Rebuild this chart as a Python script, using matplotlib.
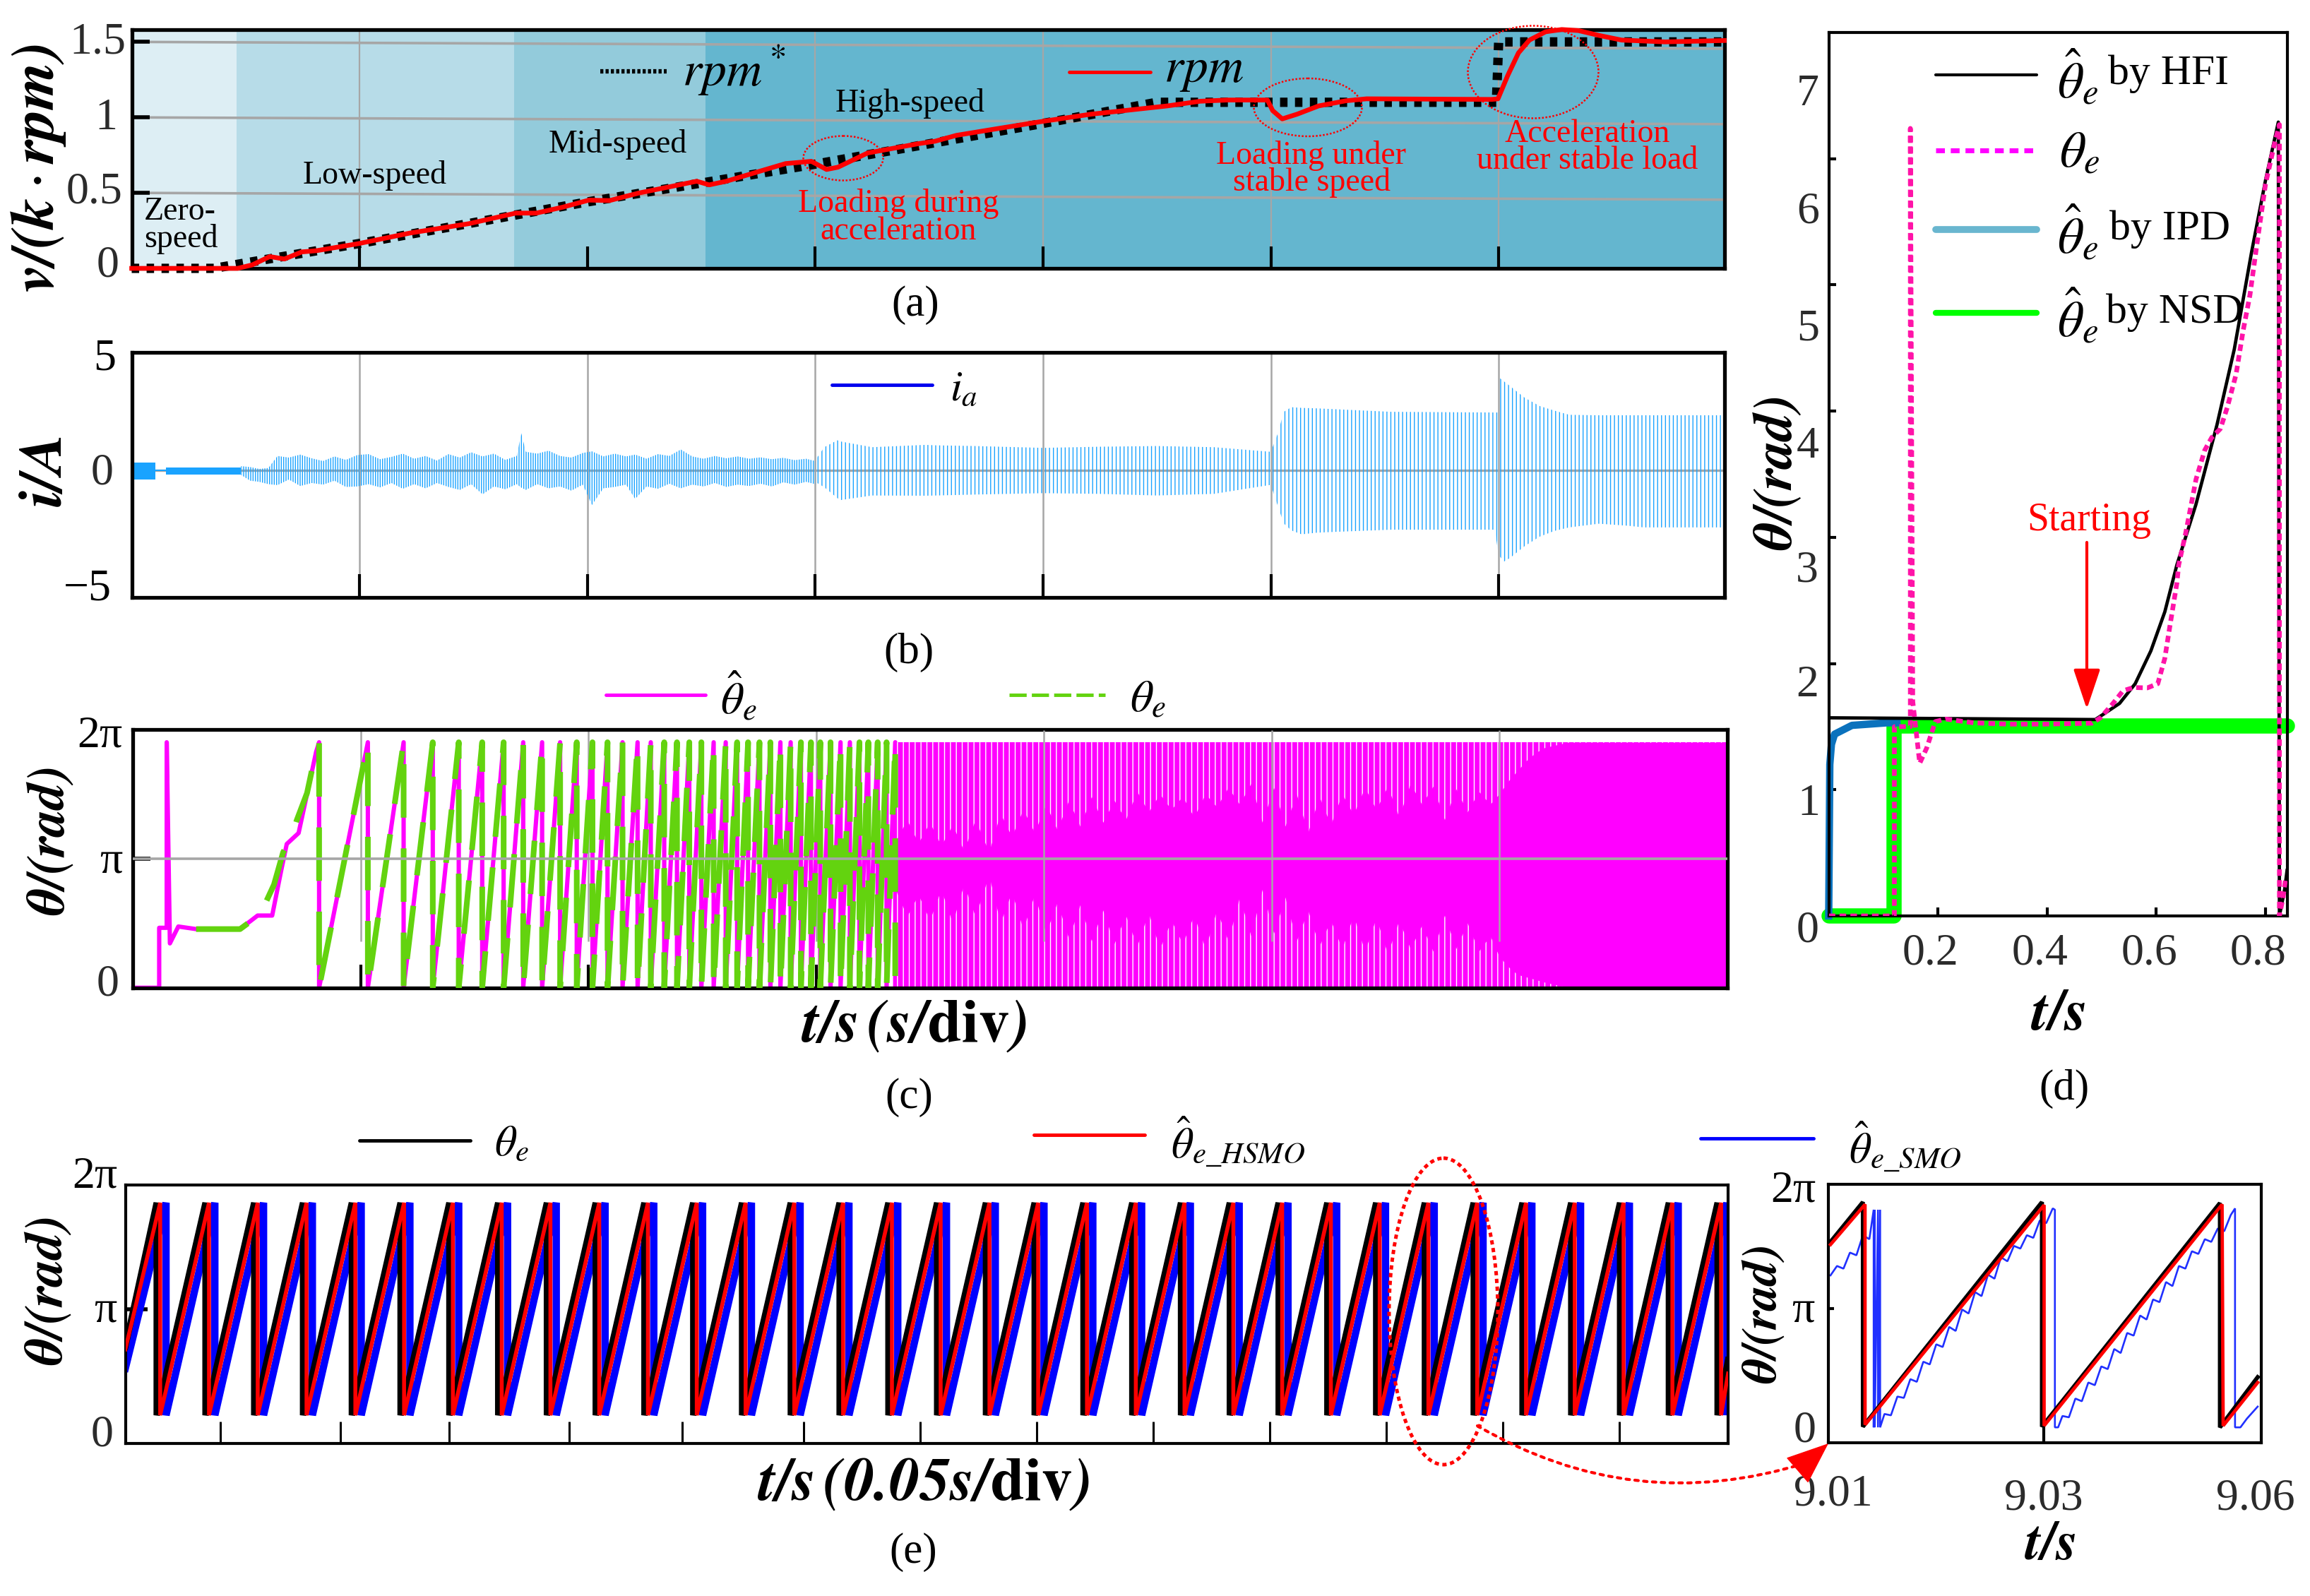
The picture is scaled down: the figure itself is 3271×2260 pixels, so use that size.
import numpy as np
import matplotlib
matplotlib.use("Agg")
import matplotlib.pyplot as plt
from matplotlib.patches import Ellipse

W, H = 3271, 2260
plt.rcParams["font.family"] = ["Liberation Serif", "DejaVu Serif"]
plt.rcParams["mathtext.fontset"] = "stix"
plt.rcParams["hatch.linewidth"] = 1.0

PI = np.pi
GREY = "#A6A6A6"
LABEL = "#2B2B2B"

# (a) speed
band_edges = [0, 0.46, 1.68, 2.52, 7]
band_colors = ["#DDEEF4", "#B7DCE8", "#93CBDB", "#64B6CF"]
ref_t = [0, 0.36, 1, 2, 3, 4, 4.5, 5.99, 6.0, 7]
ref_v = [0, 0, 0.165, 0.44, 0.69, 0.96, 1.10, 1.10, 1.5, 1.5]
rpm_t = [0, 0.465, 0.529, 0.606, 0.670, 0.747, 0.811, 0.996, 1.222, 1.48, 1.686, 1.776,
         1.891, 2.007, 2.097, 2.226, 2.38, 2.48, 2.535, 2.61, 2.765, 2.87, 2.983, 3.05,
         3.10, 3.23, 3.454, 3.526, 3.62, 3.81, 4.0, 4.21, 4.40, 4.546, 4.69, 4.81, 4.985,
         5.008, 5.05, 5.115, 5.21, 5.33, 5.42, 5.97, 5.997, 6.04, 6.087, 6.135, 6.206,
         6.277, 6.35, 6.44, 6.54, 6.73, 6.99]
rpm_v = [0, 0, 0.023, 0.078, 0.062, 0.109, 0.117, 0.164, 0.234, 0.296, 0.366, 0.366,
         0.405, 0.452, 0.449, 0.499, 0.546, 0.577, 0.553, 0.577, 0.647, 0.694, 0.709, 0.655,
         0.670, 0.764, 0.826, 0.842, 0.881, 0.928, 0.974, 1.021, 1.052, 1.076, 1.107, 1.115, 1.115,
         1.045, 0.99, 1.021, 1.076, 1.11, 1.123, 1.119, 1.123, 1.278, 1.427, 1.512, 1.567,
         1.582, 1.575, 1.543, 1.512, 1.50, 1.509]
a_grid_left = [0.5, 1.0, 1.5]
a_grid_right = [0.455, 0.955, 1.455]

# (b) phase current, read as envelopes of the oscillation
b_solid_t = [0, 0.105, 0.105, 0.15, 0.15, 0.478]
b_solid_up = [0.34, 0.34, 0.03, 0.03, 0.11, 0.11]
b_solid_lo = [-0.40, -0.40, -0.03, -0.03, -0.17, -0.17]
b_noise_t = [0.48, 0.52, 0.56, 0.60, 0.64, 0.69, 0.74, 0.79, 0.84, 0.89, 0.94, 0.99, 1.04, 1.09,
             1.14, 1.19, 1.24, 1.29, 1.34, 1.39, 1.44, 1.49, 1.54, 1.59, 1.64, 1.69, 1.71, 1.73,
             1.78, 1.83, 1.88, 1.93, 1.98, 2.02, 2.07, 2.12, 2.17, 2.21, 2.26, 2.31, 2.36, 2.41,
             2.46, 2.51, 2.56, 2.61, 2.66, 2.71, 2.76, 2.81, 2.86, 2.91, 2.96, 3.0]
b_noise_up = [0.18, 0.14, 0.06, 0.10, 0.62, 0.55, 0.68, 0.52, 0.40, 0.60, 0.45, 0.66, 0.70, 0.48,
              0.58, 0.72, 0.50, 0.62, 0.42, 0.70, 0.55, 0.78, 0.60, 0.72, 0.45, 0.62, 1.60, 0.80,
              0.72, 0.85, 0.62, 0.55, 0.75, 0.82, 0.60, 0.72, 0.60, 0.68, 0.50, 0.70, 0.62, 0.90,
              0.60, 0.50, 0.62, 0.52, 0.60, 0.50, 0.56, 0.48, 0.54, 0.44, 0.50, 0.40]
b_noise_lo = [-0.20, -0.45, -0.50, -0.60, -0.64, -0.40, -0.68, -0.55, -0.62, -0.45, -0.72, -0.70, -0.60, -0.74,
              -0.55, -0.80, -0.60, -0.78, -0.55, -0.72, -0.85, -0.60, -1.04, -0.70, -0.82, -0.60, -0.75, -0.85,
              -0.60, -0.78, -0.70, -0.88, -0.62, -1.50, -0.78, -0.72, -0.62, -1.24, -0.70, -0.80, -0.58, -0.78,
              -0.62, -0.70, -0.55, -0.72, -0.62, -0.68, -0.58, -0.70, -0.52, -0.62, -0.50, -0.60]
b_wave_t = [3.0, 3.04, 3.097, 3.11, 3.25, 3.484, 3.53, 3.7, 4.0, 4.25, 4.5, 4.75, 5.0, 5.031, 5.057, 5.09,
            5.135, 5.2, 5.266, 5.527, 5.984, 5.997, 6.003, 6.023, 6.049, 6.114, 6.18, 6.245, 6.31, 6.44,
            6.57, 6.636, 6.976]
b_wave_up = [0.43, 1.0, 1.30, 1.25, 1.0, 1.10, 1.08, 1.05, 0.97, 1.02, 1.05, 1.0, 0.80, 1.60, 2.53, 2.73,
             2.70, 2.68, 2.65, 2.53, 2.50, 2.50, 4.0, 3.85, 3.65, 3.14, 2.78, 2.58, 2.40, 2.38,
             2.38, 2.38, 2.38]
b_wave_lo = [-0.50, -0.73, -1.20, -1.29, -1.09, -1.10, -1.09, -1.05, -0.99, -1.02, -1.09, -1.02, -0.63, -1.55, -2.30, -2.60,
             -2.77, -2.70, -2.67, -2.57, -2.57, -3.50, -3.70, -3.95, -3.80, -3.28, -2.87, -2.62, -2.47, -2.31,
             -2.40, -2.47, -2.47]

# (c) rotor angle, given in units of pi
c_start_t = [0, 0.116, 0.116, 0.149, 0.149, 0.163, 0.2, 0.278, 0.471, 0.548, 0.612, 0.651, 0.676, 0.728, 0.766, 0.805]
c_start_y = [0, 0, 0.465, 0.465, 1.904, 0.344, 0.475, 0.455, 0.455, 0.56, 0.56, 0.905, 1.115, 1.20, 1.51, 1.83]
c_green_t = [0.278, 0.471, 0.56, 0.62, 0.66, 0.70, 0.72, 0.765, 0.80]
c_green_y = [0.455, 0.455, 0.57, 0.80, 1.05, 1.18, 1.30, 1.51, 1.80]
c_resets = [0.818, 1.032, 1.189, 1.317, 1.431, 1.534, 1.628, 1.714, 1.797, 1.876, 1.949, 2.018, 2.084, 2.150,
            2.216, 2.274, 2.333, 2.389, 2.443, 2.496, 2.550, 2.603, 2.653, 2.701, 2.751, 2.799, 2.843, 2.888,
            2.933, 2.977, 3.018, 3.063, 3.107, 3.148, 3.190, 3.229, 3.270, 3.309, 3.347]
c_top = 1.904
gap_t = [3.35, 3.40, 3.45, 3.50, 3.55, 3.60, 3.65, 3.70, 3.76, 3.81, 3.86, 3.91, 3.96, 4.01, 4.06, 4.11,
         4.16, 4.21, 4.26, 4.31, 4.36, 4.41, 4.46, 4.51, 4.56, 4.61, 4.66, 4.71, 4.76, 4.81, 4.86, 4.91,
         4.96, 5.01, 5.06, 5.11, 5.16, 5.21, 5.26, 5.31, 5.36, 5.41, 5.46, 5.51, 5.56, 5.61, 5.66, 5.71,
         5.76, 5.81, 5.86, 5.91, 5.96, 6.0, 6.04, 6.08, 6.12, 6.16, 6.2, 6.3, 7.0]
gap_top = [1.13, 1.30, 1.12, 1.28, 1.10, 1.26, 1.06, 1.30, 1.05, 1.35, 1.17, 1.38, 1.20, 1.42, 1.22, 1.45,
           1.25, 1.48, 1.28, 1.45, 1.30, 1.52, 1.36, 1.50, 1.38, 1.48, 1.32, 1.50, 1.40, 1.55, 1.42, 1.58,
           1.28, 1.55, 1.25, 1.50, 1.20, 1.48, 1.26, 1.50, 1.34, 1.55, 1.38, 1.56, 1.32, 1.58, 1.42, 1.56,
           1.30, 1.54, 1.36, 1.52, 1.42, 1.50, 1.60, 1.68, 1.76, 1.82, 1.86, 1.90, 1.90]
gap_bot = [0.76, 0.55, 0.72, 0.52, 0.76, 0.50, 0.80, 0.55, 0.87, 0.50, 0.74, 0.45, 0.72, 0.42, 0.66, 0.38,
           0.64, 0.36, 0.60, 0.34, 0.56, 0.32, 0.58, 0.30, 0.52, 0.34, 0.56, 0.30, 0.60, 0.36, 0.70, 0.40,
           0.76, 0.42, 0.70, 0.36, 0.60, 0.32, 0.52, 0.30, 0.56, 0.28, 0.54, 0.26, 0.52, 0.30, 0.48, 0.28,
           0.56, 0.30, 0.50, 0.28, 0.40, 0.24, 0.16, 0.10, 0.08, 0.06, 0.04, 0.0, 0.0]

# (d) start-up
d_hfi_t = [0, 0.4885, 0.504, 0.533, 0.5617, 0.5904, 0.616, 0.638, 0.673, 0.7115, 0.7433, 0.775, 0.8006, 0.824, 0.826, 0.8356, 0.84]
d_hfi_y = [1.57, 1.556, 1.60, 1.684, 1.84, 2.10, 2.41, 2.78, 3.26, 3.89, 4.49, 5.26, 5.83, 6.29, 0.0, 0.21, 0.36]
d_true_t = [0, 0.1203, 0.1203, 0.1496, 0.1496, 0.154, 0.1668, 0.1795, 0.1954, 0.2145, 0.2655, 0.3292, 0.3929, 0.4821,
            0.498, 0.5203, 0.5394, 0.5585, 0.584, 0.6031, 0.6159, 0.6254, 0.6382, 0.6413, 0.6541, 0.6732, 0.6891,
            0.7019, 0.7178, 0.7305, 0.7465, 0.7592, 0.772, 0.7847, 0.8006, 0.8165, 0.826, 0.826, 0.8324, 0.8375]
d_true_y = [0, 0, 1.50, 1.50, 6.24, 1.70, 1.21, 1.33, 1.54, 1.56, 1.53, 1.52, 1.52, 1.527,
            1.57, 1.68, 1.784, 1.81, 1.807, 1.84, 2.04, 2.30, 2.64, 2.78, 3.03, 3.46, 3.69,
            3.79, 3.86, 4.03, 4.29, 4.63, 4.92, 5.32, 5.80, 6.11, 6.27, 0.0, 0.14, 0.30]
d_ipd_t = [0, 0.002, 0.005, 0.0107, 0.0426, 0.1063, 0.125]
d_ipd_y = [0, 1.20, 1.36, 1.44, 1.51, 1.53, 1.53]
d_nsd_t = [0, 0.12, 0.12, 0.84]
d_nsd_y = [0, 0, 1.507, 1.507]

# (e) angle comparison, in units of pi; x is in divisions of 0.05 s
e_resets = [0.269, 0.688, 1.106, 1.525, 1.944, 2.362, 2.781, 3.2, 3.618, 4.037, 4.455, 4.874, 5.293, 5.711,
            6.13, 6.549, 6.967, 7.386, 7.804, 8.223, 8.642, 9.06, 9.479, 9.898, 10.316, 10.735, 11.153,
            11.572, 11.991, 12.409, 12.828, 13.247, 13.665]
e_ticks = [0.815, 1.846, 2.78, 3.81, 4.78, 5.82, 6.82, 7.82, 8.82, 9.82, 10.82, 11.82, 12.82]

# (e) inset
zoom_black_t = [9.0102, 9.0132, 9.0132, 9.0298, 9.0298, 9.0463, 9.0463, 9.0498]
zoom_black_y = [1.50, 1.797, 0.12, 1.797, 0.12, 1.79, 0.115, 0.49]
zoom_red_t = [9.0102, 9.0134, 9.0134, 9.030, 9.030, 9.0465, 9.0466, 9.0498]
zoom_red_y = [1.48, 1.78, 0.135, 1.775, 0.127, 1.78, 0.127, 0.45]
zoom_blue_t = [9.0102, 9.0108, 9.0114, 9.012, 9.0126, 9.0132, 9.0138, 9.0142, 9.0142, 9.0143, 9.0143, 9.0146, 9.0146, 9.0148,
               9.0148, 9.0152, 9.0158, 9.0164, 9.017, 9.0176, 9.0182, 9.0188, 9.0194, 9.02, 9.0206, 9.0212, 9.0218, 9.0224,
               9.023, 9.0236, 9.0242, 9.0248, 9.0254, 9.026, 9.0266, 9.0272, 9.0278, 9.0284, 9.029, 9.0296, 9.0302, 9.0308,
               9.031, 9.031, 9.0313, 9.0317, 9.0323, 9.0329, 9.0335, 9.0341, 9.0347, 9.0353, 9.0359, 9.0365, 9.0371, 9.0377,
               9.0383, 9.0389, 9.0395, 9.0401, 9.0407, 9.0413, 9.0419, 9.0425, 9.0431, 9.0437, 9.0443, 9.0449, 9.0455, 9.0461,
               9.0467, 9.0473, 9.0477, 9.0477, 9.0482, 9.0488, 9.0498]
zoom_blue_y = [1.25, 1.32, 1.30, 1.42, 1.40, 1.55, 1.52, 1.74, 0.115, 1.74, 0.115, 1.74, 0.115, 1.74,
               0.115, 0.215, 0.205, 0.345, 0.335, 0.475, 0.455, 0.605, 0.585, 0.735, 0.715, 0.865, 0.835, 0.995,
               0.965, 1.125, 1.095, 1.255, 1.225, 1.385, 1.355, 1.47, 1.45, 1.55, 1.53, 1.66, 1.64, 1.75,
               1.74, 0.115, 0.115, 0.20, 0.19, 0.33, 0.31, 0.45, 0.43, 0.57, 0.55, 0.70, 0.67, 0.82,
               0.80, 0.95, 0.92, 1.07, 1.05, 1.20, 1.17, 1.32, 1.30, 1.43, 1.41, 1.52, 1.50, 1.60,
               1.58, 1.70, 1.75, 0.115, 0.115, 0.18, 0.27]


def panel(left, top, right, bottom, lw):
    ax = fig.add_axes([left / W, 1 - bottom / H, (right - left) / W, (bottom - top) / H])
    for s in ax.spines.values():
        s.set_linewidth(lw)
    ax.tick_params(labelleft=False, labelbottom=False, direction="in")
    return ax


def saw(resets, low, high):
    x, y = [], []
    for r in resets:
        x += [r, r]
        y += [high, low]
    return x, y


fig = plt.figure(figsize=(W / 100, H / 100), dpi=100)
ov = fig.add_axes([0, 0, 1, 1], zorder=10)
ov.set_xlim(0, W)
ov.set_ylim(H, 0)
ov.axis("off")


def txt(x, y, s, size=40, color="black", rot=0, ha="center", **kw):
    ov.text(x, y, s, fontsize=size, color=color, rotation=rot, ha=ha, va="center", **kw)


def key(x0, x1, y, color, lw, **kw):
    ov.plot([x0, x1], [y, y], color=color, lw=lw, solid_capstyle="round", **kw)


# ---- (a)
ax = panel(186.5, 42, 2441.5, 380, 3.8)
for i, c in enumerate(band_colors):
    ax.axvspan(band_edges[i], band_edges[i + 1], color=c, lw=0, zorder=0)
for l, r in zip(a_grid_left, a_grid_right):
    ax.plot([0, 7], [l, r], color=GREY, lw=2.6, zorder=1)
ax.vlines([1, 3, 4, 5, 6], 0.14, 1.6, color=GREY, lw=1.6, zorder=1)
ax.plot(ref_t, ref_v, color="black", lw=9.5, ls=(0, (0.8, 0.8)), zorder=2, clip_on=False)
ax.plot(rpm_t, rpm_v, color="red", lw=4.8, zorder=3, clip_on=False)
ax.set_xlim(0, 6.99)
ax.set_ylim(0, 1.581)
ax.set_xticks([1, 2, 3, 4, 5, 6])
ax.set_yticks([0.5, 1, 1.5])
ax.tick_params(axis="x", length=22, width=3)
ax.tick_params(axis="y", length=18, width=4)

for x, y, s in [(138, 60, "1.5"), (150, 168, "1"), (134, 272, "0.5"), (153, 377, "0")]:
    txt(x, y, s, 46, LABEL)
txt(55, 238, r"$\mathbfit{v/(k}\cdot\mathbfit{rpm)}$", 62, rot=90)
txt(204, 300, "Zero-", 33, ha="left")
txt(204, 338, "speed", 33, ha="left")
txt(531, 248, "Low-speed", 33)
txt(875, 205, "Mid-speed", 33)
txt(1289, 146, "High-speed", 33)
txt(1272, 288, "Loading during", 33, "red")
txt(1272, 328, "acceleration", 33, "red")
txt(1857, 221, "Loading under", 33, "red")
txt(1857, 259, "stable speed", 33, "red")
txt(2248, 190, "Acceleration", 33, "red")
txt(2248, 228, "under stable load", 33, "red")
ov.plot([850, 944], [101, 101], color="black", lw=4.5, ls=(0, (0.7, 0.5)))
txt(966, 100, r"$\mathit{rpm}^*$", 50, ha="left")
key(1514, 1629, 102, "red", 3.5)
txt(1648, 100, r"$\mathit{rpm}$", 50, ha="left")
for cx, cy, w, h in [(1194, 224, 113, 63), (1852, 152, 153, 82), (2171, 102, 185, 131)]:
    ov.add_patch(Ellipse((cx, cy), w, h, fill=False, ec="red", lw=1.8, ls=(0, (1, 1))))
txt(1296, 432, "(a)", 44)

# ---- (b)
ax = panel(186.5, 499, 2441.5, 846, 3.8)
ax.set_xlim(0, 6.99)
ax.set_ylim(-5.5, 5.1)
ax.axhline(0, color=GREY, lw=2.4, zorder=1)
ax.vlines([1, 2, 3, 4, 5, 6], -4.48, 5.1, color=GREY, lw=1.8, zorder=1)
ax.fill_between(b_solid_t, b_solid_lo, b_solid_up, color="#1AA3FF", lw=0, zorder=2)
ax.fill_between(b_noise_t, b_noise_lo, b_noise_up, facecolor="none", edgecolor="#1AA3FF",
                hatch="|||||", lw=0, zorder=2)
ax.fill_between(b_wave_t, b_wave_lo, b_wave_up, facecolor="none", edgecolor="#1AA3FF",
                hatch="|||", lw=0, zorder=2)
ax.set_xticks([1, 2, 3, 4, 5, 6])
ax.set_yticks([])
ax.tick_params(axis="x", length=24, width=3)
for x, y, s in [(148, 508, "5"), (145, 671, "0"), (124, 835, "\u22125")]:
    txt(x, y, s, 46, "black" if s != "0" else LABEL)
txt(66, 668, r"$\mathbfit{i/A}$", 62, rot=90)
key(1178, 1320, 545, "#0000EE", 3.5)
txt(1345, 552, r"$\mathit{i_a}$", 44, ha="left")
txt(1287, 924, "(b)", 44)

# ---- (c)
ax = panel(188, 1033, 2446, 1398.7, 3.8)
ax.set_xlim(0, 7.0)
ax.set_ylim(0, 2.003)
ax.vlines([1, 2, 3], 0.36, 2.0, color=GREY, lw=1.8, zorder=1)
sx, sy = saw(c_resets, 0, c_top)
ax.plot(c_start_t + sx, c_start_y + sy, color="#FF00FF", lw=4.4, zorder=2)
ax.plot(c_green_t + sx, c_green_y + sy, color="#63D30F", lw=5.8, ls=(0, (9.4, 5.4)), zorder=3,
        dash_capstyle="butt")
ax.fill_between([c_resets[-1], 7.0], 0, c_top, color="#FF00FF", lw=0, zorder=2)
ax.fill_between(gap_t, gap_top, c_top, facecolor="none", edgecolor="white", hatch="||", lw=0, zorder=2.5)
ax.fill_between(gap_t, 0, gap_bot, facecolor="none", edgecolor="white", hatch="||", lw=0, zorder=2.5)
ax.axhline(1, color=GREY, lw=2.6, zorder=4)
ax.vlines([4, 5, 6], 0.36, 2.0, color=GREY, lw=1.8, zorder=4)
ax.set_xticks([1, 2, 3, 4, 5, 6])
ax.set_yticks([1])
ax.tick_params(axis="x", length=24, width=3)
ax.tick_params(axis="y", length=18, width=4)
txt(141, 1042, "2\u03c0", 46)
txt(157, 1220, "\u03c0", 46)
txt(153, 1395, "0", 46, LABEL)
txt(72, 1191, r"$\mathbfit{\theta/(rad)}$", 54, rot=90)
key(858, 999, 984, "#FF00FF", 3.5)
txt(1020, 988, r"$\hat{\theta}_e$", 46, ha="left")
key(1429, 1565, 984, "#63D30F", 3.5, ls=(0, (5, 1.5)))
txt(1600, 992, r"$\theta_e$", 46, ha="left")
txt(1295, 1454, r"$\mathbfit{t/s\,(s/}\mathrm{\mathbf{div}}\mathbfit{)}$", 62)
txt(1287, 1554, "(c)", 44)

# ---- (d)
ax = panel(2589.5, 46, 3238.5, 1297, 3.0)
ax.plot(d_nsd_t, d_nsd_y, color="#00FF00", lw=15.5, clip_on=False, solid_capstyle="round",
        solid_joinstyle="round", zorder=2)
ax.plot(d_ipd_t, d_ipd_y, color="#0B72BD", lw=7.5, clip_on=False, zorder=2.5)
ax.plot(d_hfi_t, d_hfi_y, color="black", lw=3.4, zorder=3)
ax.plot(d_true_t, d_true_y, color="#FF14A8", lw=4.8, ls=(0, (1.4, 0.9)), zorder=4)
ax.set_xlim(0, 0.84)
ax.set_ylim(0, 7)
ax.set_xticks([0.2, 0.4, 0.6, 0.8])
ax.set_yticks([1, 2, 3, 4, 5, 6])
ax.tick_params(axis="x", length=9, width=3)
ax.tick_params(axis="y", length=7, width=3)
for x, y, s in [(2560, 134, "7"), (2560, 301, "6"), (2560, 467, "5"), (2560, 633, "4"),
                (2559, 808, "3"), (2559, 971, "2"), (2561, 1139, "1"), (2560, 1318, "0")]:
    txt(x, y, s, 46, LABEL)
for x, s in [(2734, "0.2"), (2889, "0.4"), (3043, "0.6"), (3197, "0.8")]:
    txt(x, 1350, s, 46, LABEL)
txt(2518, 670, r"$\mathbfit{\theta/(rad)}$", 56, rot=90)
txt(2915, 1438, r"$\mathbfit{t/s}$", 60)
txt(2923, 1542, "(d)", 44)
key(2741, 2884, 105.6, "black", 3)
key(2741, 2884, 212.8, "#FF00FF", 5, ls=(0, (1.8, 1.2)))
key(2741, 2884, 325, "#69B6CF", 7)
key(2741, 2884, 443, "#00FF00", 6)
for y, s in [(105, r"$\hat{\theta}_e$"), (325, r"$\hat{\theta}_e$"), (443, r"$\hat{\theta}_e$")]:
    txt(2913, y + 6, s, 52, ha="left")
txt(2916, 218, r"$\theta_e$", 52, ha="left")
txt(2985, 105, "by HFI", 43, ha="left")
txt(2987, 325, "by IPD", 43, ha="left")
txt(2982, 443, "by NSD", 43, ha="left")
txt(2958, 737, "Starting", 40, "red")
ov.annotate("", xy=(2955, 1004), xytext=(2955, 768),
            arrowprops=dict(arrowstyle="-|>,head_width=0.42,head_length=1.25", color="red", lw=3,
                            shrinkA=0, shrinkB=0, mutation_scale=28))

# ---- (e)
ax = panel(177.5, 1678, 2447, 2044, 3.0)
ax.set_xlim(0, 13.755)
ax.set_ylim(0, 1.922)
bx, by = saw(e_resets, 0.21, 1.79)
bx_blue = [x + 0.08 for x in bx]
ax.plot([0] + bx_blue + [13.755], [0.56] + by + [0.35], color="#0000FF", lw=7.5, zorder=2,
        solid_joinstyle="bevel")
ax.plot([0] + bx + [13.755], [0.72] + by + [0.62], color="black", lw=6.5, zorder=3,
        solid_joinstyle="bevel")
bx_red = [x + 0.03 for x in bx]
ax.plot([0] + bx_red + [13.755], [0.70] + by + [0.52], color="red", lw=4, zorder=4,
        solid_joinstyle="bevel")
ax.set_xticks(e_ticks)
ax.set_yticks([1])
ax.tick_params(axis="x", length=22, width=2.2)
ax.tick_params(axis="y", length=22, width=4)
txt(134, 1667, "2\u03c0", 46)
txt(149, 1857, "\u03c0", 46)
txt(145, 2033, "0", 46, LABEL)
txt(69, 1828, r"$\mathbfit{\theta/(rad)}$", 54, rot=90)
txt(1308, 2103, r"$\mathbfit{t/s\,(0.05s/}\mathrm{\mathbf{div}}\mathbfit{)}$", 62)
txt(1293, 2198, "(e)", 44)
key(509, 666, 1615, "black", 3.5)
txt(700, 1621, r"$\theta_e$", 44, ha="left")
key(1464, 1621, 1607, "red", 3.5)
txt(1658, 1617, r"$\hat{\theta}_{e\_HSMO}$", 44, ha="left")
key(2408, 2568, 1612, "#0000FF", 3.5)
txt(2618, 1624, r"$\hat{\theta}_{e\_SMO}$", 44, ha="left")
ov.add_patch(Ellipse((2044, 1857), 154, 434, fill=False, ec="red", lw=3.6, ls=(0, (1.2, 1))))

# ---- (e) inset
ax = panel(2589, 1677, 3201.5, 2043, 3.0)
ax.plot(zoom_blue_t, zoom_blue_y, color="#2030FF", lw=1.9, zorder=2, solid_joinstyle="bevel")
ax.plot(zoom_black_t, zoom_black_y, color="black", lw=4.2, zorder=3, solid_joinstyle="bevel")
ax.plot(zoom_red_t, zoom_red_y, color="red", lw=3.4, zorder=4, solid_joinstyle="bevel")
ax.set_xlim(9.01, 9.0501)
ax.set_ylim(0, 1.93)
ax.set_xticks([9.03])
ax.set_yticks([1])
ax.tick_params(axis="x", length=18, width=3)
ax.tick_params(axis="y", length=6, width=3)
txt(2539, 1686, "2\u03c0", 46)
txt(2553, 1857, "\u03c0", 46)
txt(2556, 2027, "0", 46, LABEL)
txt(2497, 1862, r"$\mathbfit{\theta/(rad)}$", 50, rot=90)
txt(2903, 2189, r"$\mathbfit{t/s}$", 56)
txt(2596, 2116, "9.01", 46, LABEL)
txt(2894, 2122, "9.03", 46, LABEL)
txt(3194, 2122, "9.06", 46, LABEL)
# dotted link from the ellipse, solid head on its own
ov.annotate("", xy=(2556, 2072), xytext=(2092, 2019),
            arrowprops=dict(arrowstyle="-", color="red", lw=3, ls=(0, (1.2, 1.8)),
                            connectionstyle="arc3,rad=0.22", shrinkA=0, shrinkB=0))
ov.annotate("", xy=(2589, 2044), xytext=(2552, 2076),
            arrowprops=dict(arrowstyle="-|>,head_width=0.4,head_length=1.0", color="red", lw=1,
                            shrinkA=0, shrinkB=0, mutation_scale=40))

fig.savefig("out.png", dpi=100, facecolor="white")
